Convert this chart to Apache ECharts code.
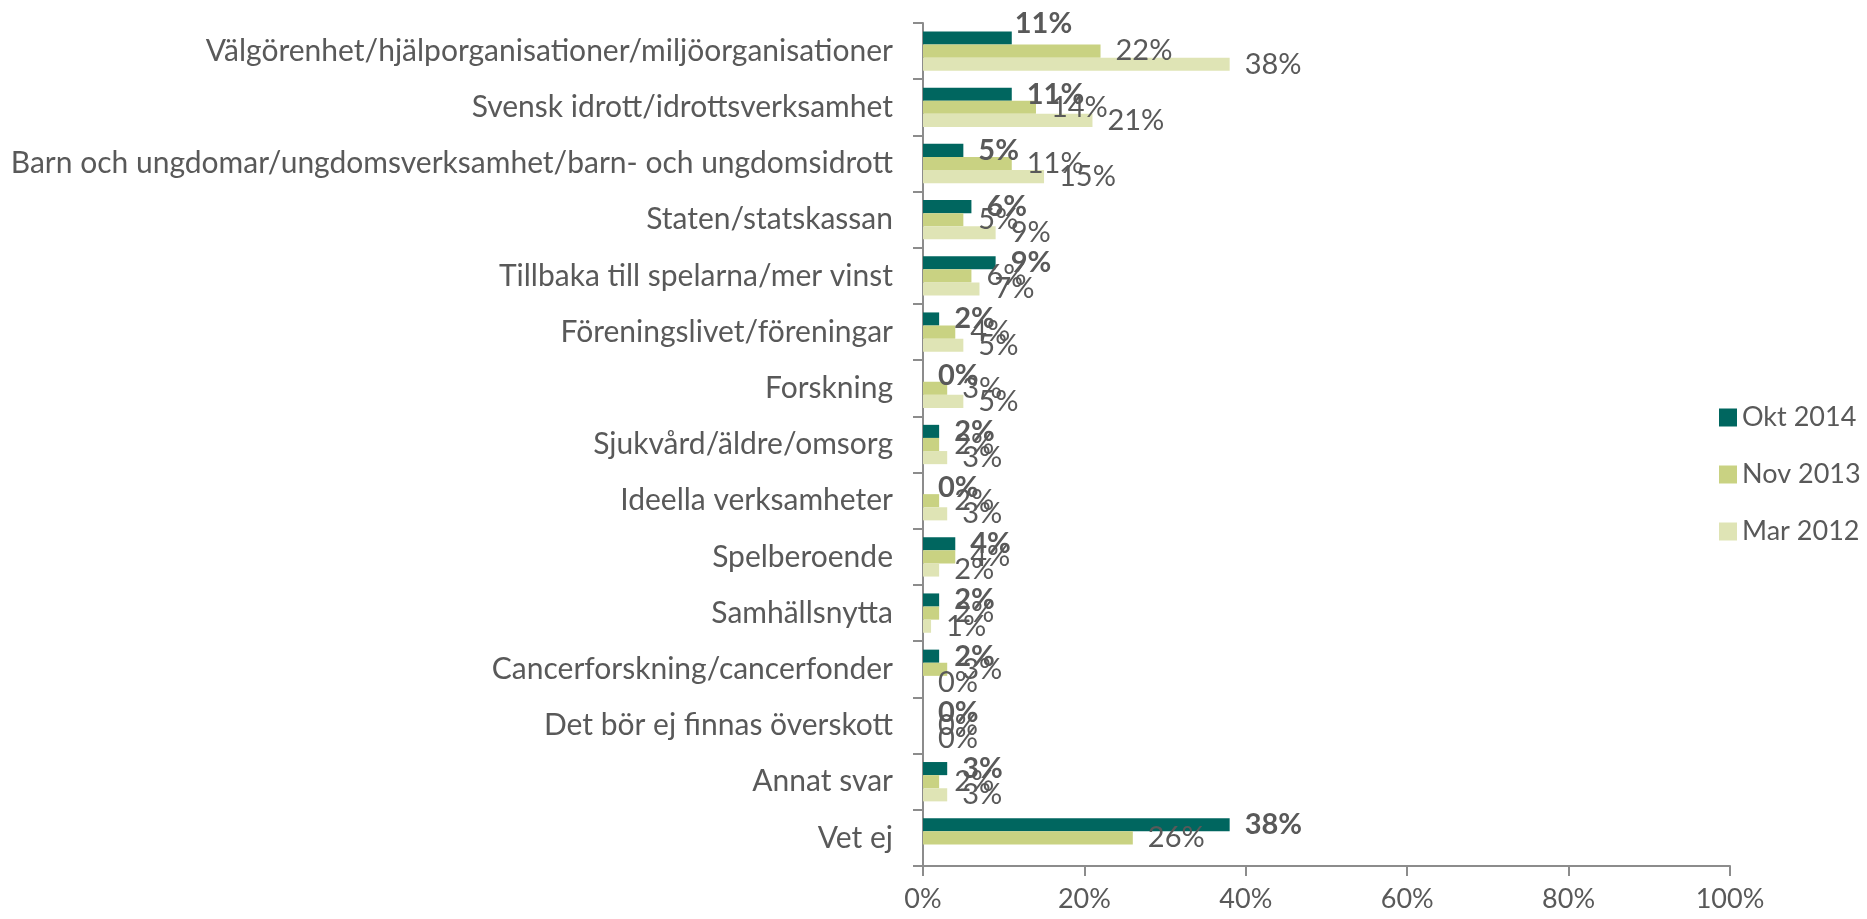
<!DOCTYPE html>
<html>
<head>
<meta charset="utf-8">
<script src="https://cdn.jsdelivr.net/npm/echarts@6/dist/echarts.min.js"></script>
<style>
html, body { margin: 0; padding: 0; background: #fff; }
#chart { width: 1867px; height: 919px; }
</style>
</head>
<body>
<div id="chart"></div>
<script>
var categories = [
    "Välgörenhet/hjälporganisationer/miljöorganisationer",
    "Svensk idrott/idrottsverksamhet",
    "Barn och ungdomar/ungdomsverksamhet/barn- och ungdomsidrott",
    "Staten/statskassan",
    "Tillbaka till spelarna/mer vinst",
    "Föreningslivet/föreningar",
    "Forskning",
    "Sjukvård/äldre/omsorg",
    "Ideella verksamheter",
    "Spelberoende",
    "Samhällsnytta",
    "Cancerforskning/cancerfonder",
    "Det bör ej finnas överskott",
    "Annat svar",
    "Vet ej"
];
var okt2014 = [11, 11, 5, 6, 9, 2, 0, 2, 0, 4, 2, 2, 0, 3, 38];
var nov2013 = [22, 14, 11, 5, 6, 4, 3, 2, 2, 4, 2, 3, 0, 2, 26];
var mar2012 = [38, 21, 15, 9, 7, 5, 5, 3, 3, 2, 1, 0, 0, 3, null];
var xTicks = [0, 20, 40, 60, 80, 100];

var textColor = '#595959';
var axisColor = '#8c8c8c';
var fontName = 'Lato';

function makeSeries(name, values, color, bold)
{
    var data = [];
    for (var i = 0; i < values.length; i++)
    {
        data.push(values[i] == null ? '-' : values[i]);
    }
    return {
        name: name,
        type: 'bar',
        data: data,
        barGap: '0%',
        barCategoryGap: '30%',
        itemStyle: { color: color },
        label: {
            show: true,
            position: 'right',
            distance: 15,
            formatter: '{c}%',
            color: textColor,
            fontFamily: fontName,
            fontSize: 29,
            fontWeight: bold ? 'bold' : 'normal'
        }
    };
}

var oktSeries = makeSeries('Okt 2014', okt2014, '#00665f', true);
// the first label sits a bit higher in the original
oktSeries.data[0] = { value: okt2014[0], label: { offset: [-12, -14] } };

var option = {
    animation: false,
    textStyle: { fontFamily: fontName },
    grid: { left: 923, right: 137, top: 23, bottom: 53, containLabel: false },
    legend: {
        orient: 'vertical',
        left: 1714,
        top: 399,
        itemWidth: 18,
        itemHeight: 18,
        itemGap: 30,
        icon: 'rect',
        textStyle: { color: textColor, fontSize: 27, fontFamily: fontName },
        data: ['Okt 2014', 'Nov 2013', 'Mar 2012']
    },
    xAxis: {
        type: 'value',
        min: xTicks[0],
        max: xTicks[xTicks.length - 1],
        interval: xTicks[1] - xTicks[0],
        axisLine: { show: true, lineStyle: { color: axisColor, width: 2 } },
        axisTick: { show: true, length: 10, lineStyle: { color: axisColor, width: 2 } },
        splitLine: { show: false },
        axisLabel: {
            formatter: '{value}%',
            color: textColor,
            fontSize: 27,
            fontFamily: fontName,
            margin: 20
        }
    },
    yAxis: {
        type: 'category',
        inverse: true,
        data: categories,
        axisLine: { show: true, lineStyle: { color: axisColor, width: 2 } },
        axisTick: { show: true, length: 10, lineStyle: { color: axisColor, width: 2 } },
        axisLabel: {
            color: textColor,
            fontSize: 30,
            fontFamily: fontName,
            margin: 30
        }
    },
    series: [
        oktSeries,
        makeSeries('Nov 2013', nov2013, '#c9d282', false),
        makeSeries('Mar 2012', mar2012, '#dfe4b5', false)
    ]
};

var myChart = echarts.init(document.getElementById('chart'));
myChart.setOption(option);
</script>
</body>
</html>
